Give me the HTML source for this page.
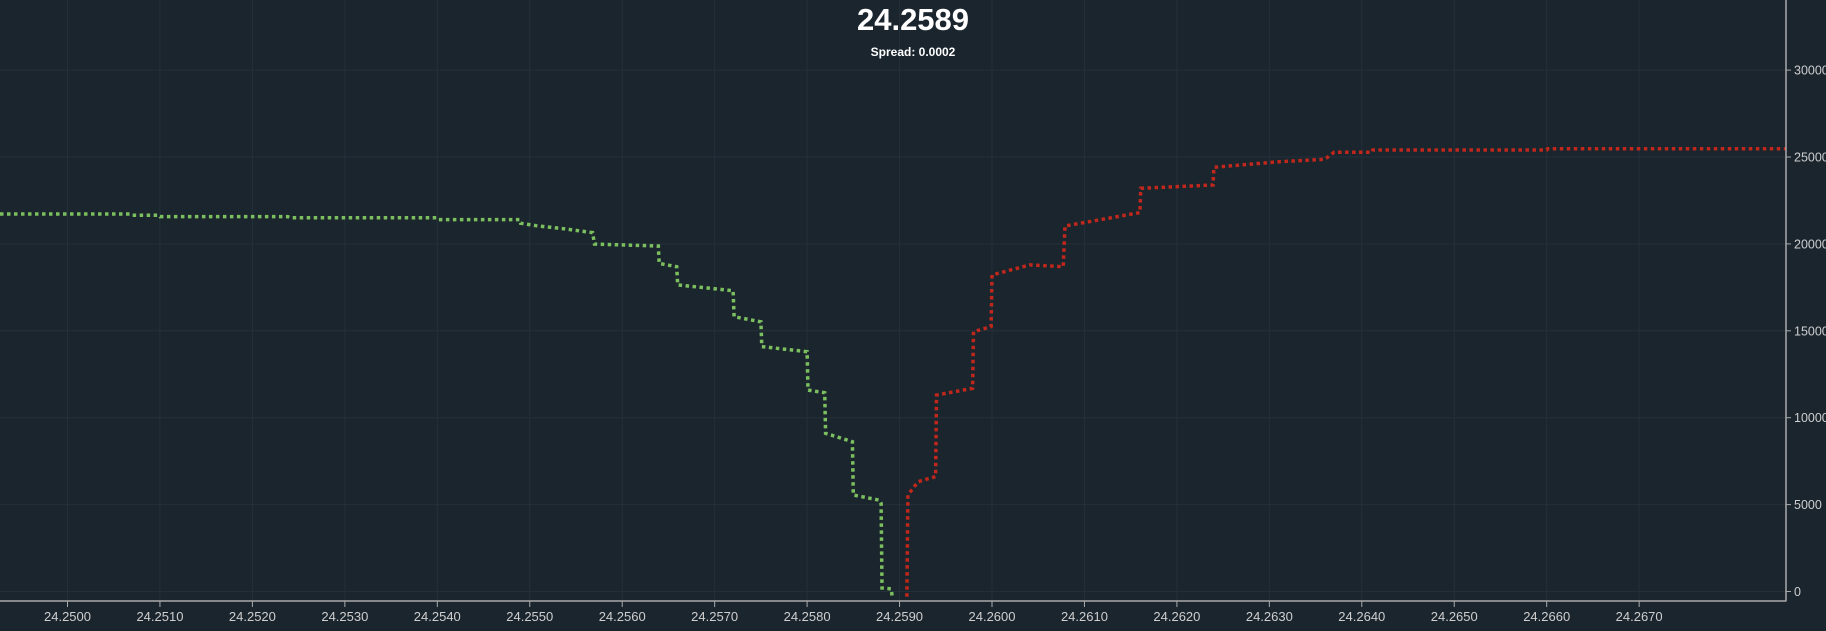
<!DOCTYPE html>
<html><head><meta charset="utf-8"><style>
html,body{margin:0;padding:0;background:#1b252e;}
svg{display:block;font-family:"Liberation Sans",sans-serif;}
</style></head><body>
<svg id="chart" width="1826" height="631" viewBox="0 0 1826 631" xmlns="http://www.w3.org/2000/svg">
<rect width="1826" height="631" fill="#1b252e"/>
<g id="grid"></g>
<g id="series"></g>
<g id="axes"></g>
<text x="913" y="30" text-anchor="middle" fill="#ffffff" font-size="31" font-weight="bold">24.2589</text>
<text x="913" y="56" text-anchor="middle" fill="#ffffff" font-size="12" font-weight="bold">Spread: 0.0002</text>
</svg>
<script>
const xTicks = [24.2500,24.2510,24.2520,24.2530,24.2540,24.2550,24.2560,24.2570,24.2580,24.2590,24.2600,24.2610,24.2620,24.2630,24.2640,24.2650,24.2660,24.2670];
const yTicks = [0,5000,10000,15000,20000,25000,30000];
const bidPrices = [24.24927,24.25068,24.25070,24.25099,24.25100,24.25238,24.25241,24.25399,24.25401,24.25489,24.25490,24.25507,24.25533,24.25568,24.25570,24.25639,24.25640,24.25659,24.25660,24.25720,24.25721,24.25750,24.25751,24.25800,24.25801,24.25819,24.25820,24.25849,24.25850,24.25878,24.25880,24.25881,24.25891,24.25892];
const bidDepth = [21720,21720,21650,21650,21570,21570,21510,21510,21400,21400,21190,21050,20900,20650,19990,19880,18880,18690,17640,17310,15810,15520,14090,13800,11590,11440,9100,8620,5550,5260,5070,200,150,-300];
const askPrices = [24.25908,24.25909,24.25920,24.25939,24.25940,24.25979,24.25980,24.25999,24.26000,24.26041,24.26077,24.26079,24.26160,24.26161,24.26239,24.26240,24.26311,24.26360,24.26370,24.26411,24.26412,24.26600,24.26601,24.26859];
const askDepth = [-300,5550,6320,6610,11300,11690,14950,15240,18210,18790,18690,21030,21800,23200,23390,24410,24730,24870,25270,25270,25400,25400,25480,25480];

const NS = "http://www.w3.org/2000/svg";
const X0 = 67.5, XS = 92450, Y0 = 591.5, YS = 0.01738;
const AX = 1786, AY = 601;
function xScale(p){ return X0 + (p - 24.25) * XS; }
function yScale(v){ return Y0 - v * YS; }
function mk(tag, attrs, parent){
  const e = document.createElementNS(NS, tag);
  for (const k in attrs) e.setAttribute(k, attrs[k]);
  parent.appendChild(e); return e;
}
const grid = document.getElementById('grid');
const axes = document.getElementById('axes');
const series = document.getElementById('series');

xTicks.forEach(t => {
  const x = xScale(t);
  const g = mk('line', {x1:x, x2:x, y1:0, y2:AY, stroke:'#243039', 'stroke-width':1}, grid);
  
  
  const tk = mk('line', {x1:x, x2:x, y1:AY, y2:AY+6, stroke:'#aaaaaa', 'stroke-width':1}, axes);
  
  
  const lb = mk('text', {x:x, y:621, 'text-anchor':'middle', fill:'#cfcfcf', 'font-size':13}, axes);
  lb.textContent = t.toFixed(4);
  
  
});
yTicks.forEach(t => {
  const y = yScale(t);
  const g = mk('line', {x1:0, x2:AX, y1:y, y2:y, stroke:'#243039', 'stroke-width':1}, grid);
  
  
  const tk = mk('line', {x1:AX, x2:AX+5, y1:y, y2:y, stroke:'#aaaaaa', 'stroke-width':1}, axes);
  
  
  const lb = mk('text', {x:AX+8, y:y+4.5, fill:'#cfcfcf', 'font-size':12.5}, axes);
  lb.textContent = String(t);
  
  
});
const xa = mk('line', {x1:0, x2:AX+0.5, y1:AY, y2:AY, stroke:'#aaaaaa', 'stroke-width':1.5}, axes);


const ya = mk('line', {x1:AX, x2:AX, y1:0, y2:AY, stroke:'#aaaaaa', 'stroke-width':1.5}, axes);



const clip = mk('clipPath', {id:'plotclip'}, document.getElementById('chart'));
mk('rect', {x:0, y:0, width:AX, height:AY}, clip);
series.setAttribute('clip-path', 'url(#plotclip)');

function pts(ps, vs){ return ps.map((p,i)=> xScale(p).toFixed(1)+','+yScale(vs[i]).toFixed(1)).join(' '); }
const bid = mk('polyline', {points:pts(bidPrices,bidDepth), fill:'none', stroke:'#7cbf5f', 'stroke-width':3.5, 'stroke-dasharray':'3.5,3.5'}, series);


const ask = mk('polyline', {points:pts(askPrices,askDepth), fill:'none', stroke:'#c1271b', 'stroke-width':3.5, 'stroke-dasharray':'3.5,3.5'}, series);


</script>
</body></html>
